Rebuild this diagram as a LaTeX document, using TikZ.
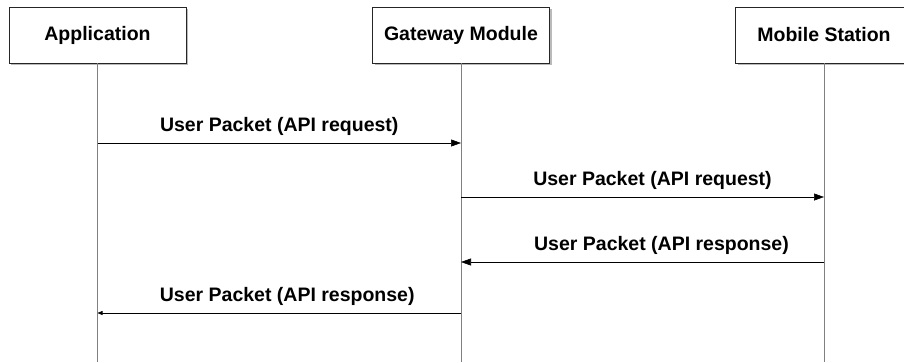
\documentclass[tikz,border=0pt]{standalone}
\usepackage{fontspec}
\setmainfont{Liberation Sans}
\usetikzlibrary{arrows.meta,shadows}
\begin{document}
\begin{tikzpicture}[x=1pt, y=-1pt,
    actor/.style={draw=black!85, fill=white, minimum width=177pt, minimum height=56pt, inner sep=0pt,
      drop shadow={shadow xshift=2pt, shadow yshift=-2pt, fill=black!45, opacity=0.6},
      font=\fontsize{19.5}{23}\selectfont\bfseries},
    life/.style={draw=black!50, line width=0.8pt},
    msg/.style={line width=0.6pt, -{Triangle[length=10pt, width=7pt]}},
    msgsmall/.style={line width=0.6pt, -{Triangle[length=5pt, width=4pt]}},
    lbl/.style={font=\fontsize{19.5}{23}\selectfont\bfseries, inner sep=0pt, above=7pt}]
      \clip (0,0) rectangle (904,362);

      \node[actor] (app) at (97.5,35) {Application};
      \node[actor] (gw) at (461,35) {Gateway Module};
      \node[actor] (ms) at (824,35) {Mobile Station};

      \coordinate (append) at (app |- 0,362);
      \coordinate (gwend) at (gw |- 0,362);
      \coordinate (msend) at (ms |- 0,362);

      \draw[life] (app.south) -- (append);
      \draw[life] (gw.south) -- (gwend);
      \draw[life] (ms.south) -- (msend);

      \coordinate (a1) at (app |- 0,143);
      \coordinate (g1) at (gw |- 0,143);
      \coordinate (g2) at (gw |- 0,197);
      \coordinate (m2) at (ms |- 0,197);
      \coordinate (m3) at (ms |- 0,262);
      \coordinate (g3) at (gw |- 0,262);
      \coordinate (g4) at (gw |- 0,313);
      \coordinate (a4) at (app |- 0,313);

      \draw[msg] (a1) -- node[midway, lbl]{User Packet (API request)} (g1);
      \draw[msg] (g2) -- node[midway, lbl, xshift=10pt]{User Packet (API request)} (m2);
      \draw[msg] (m3) -- node[midway, lbl, xshift=19pt]{User Packet (API response)} (g3);
      \draw[msgsmall] (g4) -- node[midway, lbl, xshift=8pt]{User Packet (API response)} (a4);
    \end{tikzpicture}
\end{document}
